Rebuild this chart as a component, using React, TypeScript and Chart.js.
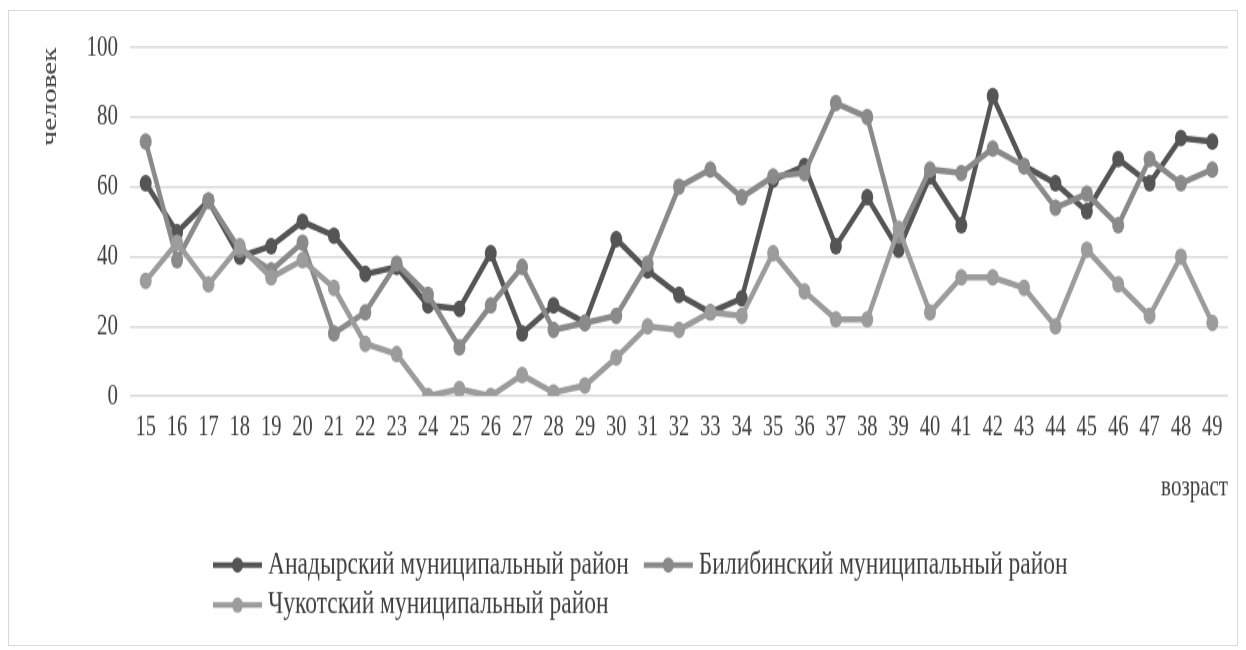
import React, { useEffect, useRef } from "react";
import { Chart, registerables } from "chart.js";

Chart.register(...registerables);

const ages = ["15","16","17","18","19","20","21","22","23","24","25","26","27","28","29","30","31","32","33","34","35","36","37","38","39","40","41","42","43","44","45","46","47","48","49"];
const anadyr = [61,47,56,40,43,50,46,35,37,26,25,41,18,26,21,45,36,29,24,28,62,66,43,57,42,63,49,86,66,61,53,68,61,74,73];
const bilibino = [73,39,56,42,36,44,18,24,38,29,14,26,37,19,21,23,38,60,65,57,63,64,84,80,46,65,64,71,66,54,58,49,68,61,65];
const chukotka = [33,44,32,43,34,39,31,15,12,0,2,0,6,1,3,11,20,19,24,23,41,30,22,22,48,24,34,34,31,20,42,32,23,40,21];
const seriesNames = ["Анадырский муниципальный район", "Билибинский муниципальный район", "Чукотский муниципальный район"];
const seriesColors = ["#555555", "#8a8a8a", "#9c9c9c"];
const yTitle = "человек";
const xTitle = "возраст";
const yMin = 0;
const yMax = 100;
const yStep = 20;

const S = 1.4;
const W = 1228;
const OUTER_H = 634;
const H = Math.round(OUTER_H / S);
const FONT = '"Liberation Serif", "Times New Roman", serif';
const TEXT = "#404040";

const legendPlugin = {
  id: "customLegend",
  afterDraw(chart: any) {
    const ctx = chart.ctx;
    ctx.save();
    ctx.font = `23.5px ${FONT}`;
    ctx.textBaseline = "middle";
    ctx.textAlign = "left";
    const rows = [[0, 1], [2]];
    const rowY = [395.7, 424.3];
    rows.forEach((row, ri) => {
      let x = 204;
      const y = rowY[ri];
      row.forEach((i) => {
        const ds = chart.data.datasets.find((d: any) => d.label === seriesNames[i]);
        ctx.strokeStyle = ds.borderColor;
        ctx.lineWidth = 4;
        ctx.beginPath();
        ctx.moveTo(x, y);
        ctx.lineTo(x + 49, y);
        ctx.stroke();
        ctx.fillStyle = ds.borderColor;
        ctx.beginPath();
        ctx.arc(x + 24.5, y, 5.5, 0, Math.PI * 2);
        ctx.fill();
        ctx.fillStyle = TEXT;
        ctx.fillText(ds.label, x + 55, y);
        x += 55 + ctx.measureText(ds.label).width + 15;
      });
    });
    ctx.restore();
  },
};

export default function App() {
  const ref = useRef<HTMLCanvasElement | null>(null);
  useEffect(() => {
    if (!ref.current) return;
    const data = [anadyr, bilibino, chukotka];
    const chart = new Chart(ref.current, {
      type: "line",
      data: {
        labels: ages,
        datasets: data
          .map((d, i) => ({
            label: seriesNames[i],
            data: d,
            borderColor: seriesColors[i],
            backgroundColor: seriesColors[i],
            borderWidth: 4.5,
            pointRadius: 6,
            pointBorderWidth: 0,
            pointBackgroundColor: seriesColors[i],
            tension: 0,
            fill: false,
          }))
          .reverse(),
      },
      options: {
        responsive: false,
        animation: false,
        devicePixelRatio: 1,
        layout: { padding: { top: 26, right: 9, left: 0, bottom: 0 } },
        plugins: { legend: { display: false }, tooltip: { enabled: false } },
        scales: {
          x: {
            offset: true,
            grid: { display: false },
            border: { display: false },
            ticks: {
              autoSkip: false,
              maxRotation: 0,
              padding: 2,
              color: TEXT,
              font: { family: FONT, size: 20.5 },
            },
            title: {
              display: true,
              text: xTitle,
              align: "end",
              color: TEXT,
              font: { family: FONT, size: 21, weight: "normal" },
              padding: { top: 0, bottom: 100 },
            },
            afterFit: (scale: any) => {
              scale.height = H - 275;
            },
          },
          y: {
            min: yMin,
            max: yMax,
            grid: { color: "#d9d9d9", lineWidth: 1.4, drawTicks: false },
            border: { display: false },
            ticks: {
              stepSize: yStep,
              padding: 12,
              color: TEXT,
              font: { family: FONT, size: 21 },
            },
            title: {
              display: true,
              text: yTitle,
              align: "end",
              color: TEXT,
              font: { family: FONT, size: 21, weight: "normal" },
              padding: { top: 29, bottom: 0 },
            },
            afterFit: (scale: any) => {
              scale.width = 121;
            },
          },
        },
      },
      plugins: [legendPlugin],
    });
    return () => chart.destroy();
  }, []);

  return (
    <div
      style={{
        marginTop: 2,
        width: W,
        height: OUTER_H,
        border: "1px solid #d9d9d9",
        overflow: "hidden",
        background: "#fff",
      }}
    >
      <div style={{ width: W, height: H, transform: `scaleY(${S})`, transformOrigin: "top left" }}>
        <canvas ref={ref} width={W} height={H} style={{ display: "block" }} />
      </div>
    </div>
  );
}
